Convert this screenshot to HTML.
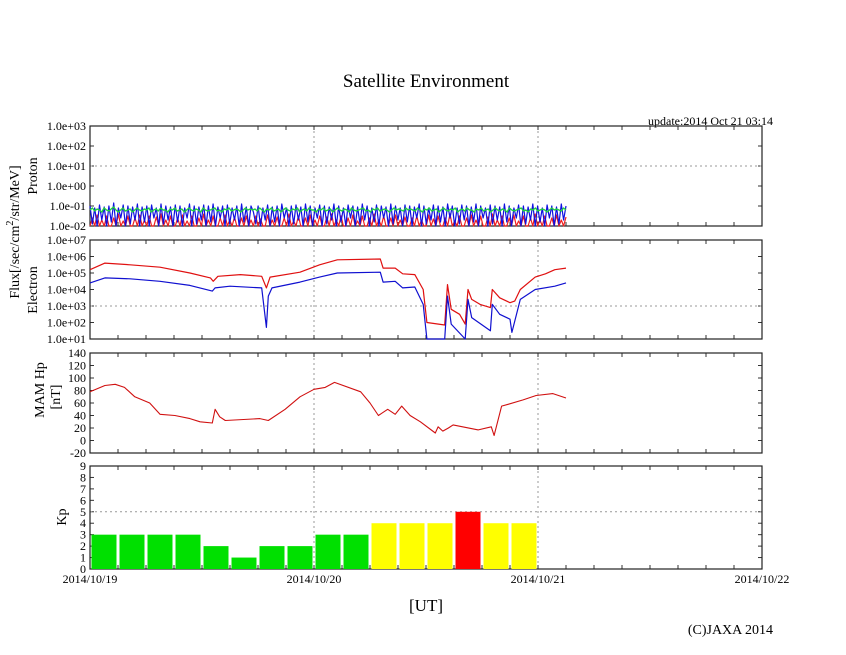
<!DOCTYPE html>
<html><head><meta charset="utf-8"><style>
body{margin:0;background:#fff;}
svg{display:block;font-family:"Liberation Serif",serif;}
</style></head><body>
<svg id="chart" width="846" height="655" viewBox="0 0 846 655" xmlns="http://www.w3.org/2000/svg">
<rect width="846" height="655" fill="#fff"/>
<text x="426" y="87" font-size="19" text-anchor="middle">Satellite Environment</text>
<text x="773" y="125" font-size="12" text-anchor="end">update:2014 Oct 21 03:14</text>
<text transform="translate(19,232) rotate(-90)" font-size="14" text-anchor="middle">Flux[/sec/cm<tspan dy="-6" font-size="10">2</tspan><tspan dy="6">/str/MeV]</tspan></text>
<text transform="translate(37,176) rotate(-90)" font-size="14" text-anchor="middle">Proton</text>
<text transform="translate(37,290) rotate(-90)" font-size="14" text-anchor="middle">Electron</text>
<text transform="translate(44,390) rotate(-90)" font-size="14" text-anchor="middle">MAM Hp</text>
<text transform="translate(60,397) rotate(-90)" font-size="14" text-anchor="middle">[nT]</text>
<text transform="translate(66,517) rotate(-90)" font-size="14" text-anchor="middle">Kp</text>
<text x="426" y="611" font-size="17" text-anchor="middle">[UT]</text>
<text x="773" y="634" font-size="14" text-anchor="end">(C)JAXA 2014</text>
<g id="plots"></g>
</svg>
<script>
// ---- data ----
const xTickLabels = ["2014/10/19","2014/10/20","2014/10/21","2014/10/22"];
const protonTickLabels = ["1.0e-02","1.0e-01","1.0e+00","1.0e+01","1.0e+02","1.0e+03"];
const electronTickLabels = ["1.0e+01","1.0e+02","1.0e+03","1.0e+04","1.0e+05","1.0e+06","1.0e+07"];
const mamTickLabels = ["-20","0","20","40","60","80","100","120","140"];
const kpTickLabels = ["0","1","2","3","4","5","6","7","8","9"];
// proton log10 values, one every 0.25 h from 0 h
const protonGreen = [-1.2,-1.1,-1.25,-1.15,-1.2,-1.3,-1.1,-1.2,-1.25,-1.15,-1.05,-1.2,-1.3,-1.2,-1.1,-1.25,-1.2,-1.15,-1.3,-1.2,-1.1,-1.2,-1.25,-1.15,-1.2,-1.1,-1.3,-1.2,-1.15,-1.25,-1.1,-1.2,-1.2,-1.3,-1.15,-1.2,-1.1,-1.25,-1.2,-1.15,-1.3,-1.2,-1.1,-1.2,-1.25,-1.15,-1.2,-1.3,-1.1,-1.2,-1.25,-1.2,-1.15,-1.1,-1.25,-1.2,-1.3,-1.15,-1.2,-1.1,-1.25,-1.2,-1.15,-1.2,-1.3,-1.2,-1.1,-1.2,-1.15,-1.2,
-1.15,-1.25,-1.1,-1.2,-1.3,-1.15,-1.2,-1.1,-1.25,-1.2,-1.15,-1.3,-1.2,-1.1,-1.2,-1.25,-1.15,-1.2,-1.1,-1.3,-1.2,-1.15,-1.25,-1.1,-1.2,-1.2,-1.3,-1.15,-1.2,-1.1,-1.25,-1.2,-1.15,-1.3,-1.2,-1.1,-1.2,-1.25,-1.15,-1.2,-1.3,-1.1,-1.2,-1.25,-1.2,-1.15,-1.1,-1.25,-1.2,-1.3,-1.15,-1.2,-1.1,-1.25,-1.2,-1.15,-1.2,-1.3,-1.2,-1.1,-1.2,-1.15,-1.2,-1.25,-1.1,-1.2,-1.15,-1.2,-1.25,
-1.1,-1.2,-1.3,-1.15,-1.2,-1.1,-1.25,-1.2,-1.15,-1.3,-1.2,-1.1,-1.2,-1.25,-1.15,-1.2,-1.1,-1.3,-1.2,-1.15,-1.25,-1.1,-1.2,-1.2,-1.3,-1.15,-1.2,-1.1,-1.25,-1.2,-1.15,-1.3,-1.2,-1.1,-1.2,-1.25,-1.15,-1.2,-1.3,-1.1,-1.2,-1.25,-1.2,-1.15,-1.1,-1.25,-1.2,-1.3,-1.15,-1.2,-1.1,-1.25,-1.2,-1.15,-1.2,-1.3,-1.2,-1.1,-1.2,-1.15,-1.2,-1.25,-1.1,-1.2];
const protonBlue = [-1.0,-1.9,-1.1,-2.0,-0.95,-1.7,-1.05,-2.0,-1.0,-1.8,-0.85,-2.0,-1.1,-1.6,-0.95,-2.0,-1.0,-1.9,-1.05,-1.7,-0.9,-2.0,-1.05,-1.8,-1.0,-2.0,-0.95,-1.6,-1.1,-2.0,-0.9,-1.9,-1.0,-1.7,-1.05,-2.0,-0.95,-1.8,-1.0,-2.0,-1.1,-1.6,-0.9,-2.0,-1.0,-1.9,-1.05,-1.7,-0.95,-2.0,-1.0,-1.8,-0.9,-2.0,-1.05,-1.6,-1.0,-2.0,-0.95,-1.9,-1.1,-1.7,-1.0,-2.0,-0.9,-1.8,-1.05,-2.0,-1.0,-1.3,
-1.9,-1.0,-2.0,-1.1,-1.7,-0.95,-2.0,-1.05,-1.8,-1.0,-2.0,-0.9,-1.6,-1.1,-2.0,-1.0,-1.9,-0.95,-1.7,-1.05,-2.0,-0.9,-1.8,-1.0,-2.0,-1.1,-1.6,-0.95,-2.0,-1.0,-1.9,-1.05,-1.7,-0.9,-2.0,-1.0,-1.8,-1.1,-2.0,-0.95,-1.6,-1.0,-2.0,-1.05,-1.9,-0.9,-1.7,-1.0,-2.0,-1.1,-1.8,-0.95,-2.0,-1.0,-1.6,-1.05,-2.0,-0.9,-1.9,-1.0,-1.7,-1.1,-2.0,-0.95,-1.8,-1.0,-2.0,
-1.05,-1.6,-0.9,-2.0,-1.0,-1.9,-1.1,-1.7,-0.95,-2.0,-1.0,-1.8,-1.05,-2.0,-0.9,-1.6,-1.0,-2.0,-1.1,-1.9,-0.95,-1.7,-1.0,-2.0,-1.05,-1.8,-0.9,-2.0,-1.0,-1.6,-1.1,-2.0,-0.95,-1.9,-1.0,-1.7,-1.05,-2.0,-0.9,-1.8,-1.0,-2.0,-1.1,-1.6,-0.95,-2.0,-1.0,-1.9,-1.05,-1.7,-0.9,-2.0,-1.0,-1.8,-1.1,-2.0,-0.95,-1.6,-1.0,-2.0,-1.05,-1.9,-0.9,-1.7,-1.0];
const protonRed = [-2.0,-1.6,-2.0,-1.45,-2.0,-1.7,-2.0,-1.5,-2.0,-2.0,-1.6,-2.0,-1.4,-2.0,-1.75,-2.0,-1.5,-2.0,-2.0,-1.6,-2.0,-1.45,-2.0,-1.7,-2.0,-1.5,-2.0,-2.0,-1.55,-2.0,-1.4,-2.0,-1.7,-2.0,-1.5,-2.0,-2.0,-1.6,-2.0,-1.45,-2.0,-1.75,-2.0,-1.5,-2.0,-2.0,-1.6,-2.0,-1.4,-2.0,-1.7,-2.0,-1.5,-2.0,-2.0,-1.6,-2.0,-1.45,-2.0,-1.7,-2.0,-1.55,-2.0,-2.0,-1.6,-2.0,-1.5,-2.0,-1.7,-2.0,
-1.5,-2.0,-1.65,-2.0,-2.0,-1.45,-2.0,-1.7,-2.0,-1.55,-2.0,-2.0,-1.6,-2.0,-1.4,-2.0,-1.75,-2.0,-1.5,-2.0,-2.0,-1.6,-2.0,-1.45,-2.0,-1.7,-2.0,-1.5,-2.0,-2.0,-1.55,-2.0,-1.4,-2.0,-1.7,-2.0,-1.5,-2.0,-2.0,-1.6,-2.0,-1.45,-2.0,-1.75,-2.0,-1.5,-2.0,-2.0,-1.6,-2.0,-1.4,-2.0,-1.7,-2.0,-1.5,-2.0,-2.0,-1.6,-2.0,-1.45,-2.0,-1.7,-2.0,-1.55,-2.0,-2.0,-1.6,
-2.0,-1.5,-2.0,-1.7,-2.0,-2.0,-1.45,-2.0,-1.65,-2.0,-1.5,-2.0,-2.0,-1.6,-2.0,-1.4,-2.0,-1.75,-2.0,-1.5,-2.0,-2.0,-1.6,-2.0,-1.45,-2.0,-1.7,-2.0,-1.5,-2.0,-2.0,-1.55,-2.0,-1.4,-2.0,-1.7,-2.0,-1.5,-2.0,-2.0,-1.6,-2.0,-1.45,-2.0,-1.75,-2.0,-1.5,-2.0,-2.0,-1.6,-2.0,-1.4,-2.0,-1.7,-2.0,-1.5,-2.0,-2.0,-1.6,-2.0,-1.45,-2.0,-1.7,-2.0,-1.55];
// electron: hours and log10 flux
const electronRedHours = [0,1.6,4.3,7.5,10.7,12.9,13.2,13.7,16.1,18.4,18.9,19.3,22.5,24.6,26.5,31.1,31.4,32.7,33.5,34.8,35.7,36.1,38.0,38.3,38.7,39.6,40.2,40.5,40.9,41.8,42.9,43.1,43.9,45.0,45.5,46.1,47.7,48.8,49.8,51.0];
const electronRed = [5.2,5.6,5.5,5.35,5.0,4.7,4.5,4.8,4.9,4.8,4.1,4.75,5.05,5.5,5.8,5.85,5.3,5.3,4.95,4.9,4.0,2.0,1.85,4.3,2.8,2.5,1.9,4.0,3.4,3.1,2.9,4.0,3.5,3.2,3.3,4.0,4.75,4.95,5.2,5.3];
const electronBlueHours = [0,1.6,4.3,7.5,10.7,13.1,13.4,15.0,18.4,18.9,19.1,19.5,22.5,24.6,26.5,31.1,31.4,32.7,33.5,34.8,35.7,36.1,38.0,38.3,38.7,40.2,40.5,40.9,42.9,43.1,43.9,45.0,45.2,46.1,47.7,49.8,51.0];
const electronBlue = [4.4,4.7,4.65,4.5,4.25,3.9,4.1,4.2,4.1,1.7,3.6,4.1,4.45,4.75,5.0,5.05,4.45,4.5,4.1,4.15,3.1,1.0,1.0,3.6,1.9,1.0,3.4,2.3,1.5,3.1,2.5,2.2,1.4,3.4,4.0,4.2,4.4];
// MAM Hp
const mamHours = [0,1.6,2.7,3.7,4.8,6.4,7.5,9.1,10.7,11.8,13.1,13.4,13.9,14.5,18.2,19.1,20.9,22.5,24.0,25.2,26.2,29.0,30.0,30.9,31.9,32.7,33.4,34.3,35.4,37.0,37.3,37.8,38.4,38.9,41.6,43.0,43.3,44.1,44.8,46.4,47.8,49.6,51.0];
const mamValues = [78,88,90,85,70,60,42,40,35,30,28,50,38,32,35,32,50,70,82,85,93,78,60,40,50,42,55,40,30,12,22,15,20,25,17,22,8,55,58,65,72,75,68];
// Kp, one per 3 h interval
const kpValues = [3,3,3,3,2,1,2,2,3,3,4,4,4,5,4,4];

// ---- layout ----
const X0=90, X1=762, DAYS=3;
const panels = {
  proton:{top:126,bottom:226,min:-2,max:3},
  electron:{top:240,bottom:339,min:1,max:7},
  mam:{top:353,bottom:453,min:-20,max:140},
  kp:{top:466,bottom:569,min:0,max:9}
};
const xScale = h => X0 + h/(24*DAYS)*(X1-X0);
const yScale = (p,v) => p.bottom - (Math.max(p.min,Math.min(p.max,v))-p.min)/(p.max-p.min)*(p.bottom-p.top);
const NS="http://www.w3.org/2000/svg";
const g=document.getElementById('plots');
function mk(tag,attrs,parent){const e=document.createElementNS(NS,tag);for(const k in attrs)e.setAttribute(k,attrs[k]);(parent||g).appendChild(e);return e;}

function frame(name,p,labels,gridIdx){
  const grp=mk('g',{});
  
  
  for(let d=1;d<DAYS;d++){
    const gl=mk('line',{x1:xScale(d*24),x2:xScale(d*24),y1:p.top,y2:p.bottom,stroke:'#999','stroke-dasharray':'2,3','stroke-width':1},grp);
    
    
  }
  const step=(p.max-p.min)/(labels.length-1);
  labels.forEach((lab,i)=>{
    const y=yScale(p,p.min+i*step);
    const t=mk('text',{x:X0-4,y:y+4,'font-size':12,'text-anchor':'end'},grp);
    t.textContent=lab;
    
    
    mk('line',{x1:X0,x2:X0+4,y1:y,y2:y,stroke:'#333'},grp);
    mk('line',{x1:X1-4,x2:X1,y1:y,y2:y,stroke:'#333'},grp);
    if(gridIdx.includes(i)){
      const hl=mk('line',{x1:X0,x2:X1,y1:y,y2:y,stroke:'#999','stroke-dasharray':'2,3'},grp);
      
      
    }
  });
  for(let h=3;h<24*DAYS;h+=3){
    const x=xScale(h);
    mk('line',{x1:x,x2:x,y1:p.top,y2:p.top+4,stroke:'#333'},grp);
    mk('line',{x1:x,x2:x,y1:p.bottom-4,y2:p.bottom,stroke:'#333'},grp);
  }
  const r=mk('rect',{x:X0,y:p.top,width:X1-X0,height:p.bottom-p.top,fill:'none',stroke:'#222','stroke-width':1.2},grp);
  
  
  return grp;
}
function line(p,hours,vals,color,name,w){
  const pts=hours.map((h,i)=>xScale(h).toFixed(1)+','+yScale(p,vals[i]).toFixed(1)).join(' ');
  const pl=mk('polyline',{points:pts,fill:'none',stroke:color,'stroke-width':w||1,'stroke-linejoin':'round'});
  
  
}

frame('proton',panels.proton,protonTickLabels,[3]);
frame('electron',panels.electron,electronTickLabels,[2]);
frame('mam',panels.mam,mamTickLabels,[]);
frame('kp',panels.kp,kpTickLabels,[5]);

const pStep = 51/(protonGreen.length-1);
const pHours = protonGreen.map((_,i)=>i*pStep);
line(panels.proton,protonRed.map((_,i)=>i*51/(protonRed.length-1)),protonRed,'#f02020','proton-red-series',1.2);
line(panels.proton,protonBlue.map((_,i)=>i*51/(protonBlue.length-1)),protonBlue,'#1010e0','proton-blue-series',1.2);
line(panels.proton,pHours,protonGreen,'#20d040','proton-green-series',1.4);
line(panels.electron,electronRedHours,electronRed,'#e01010','electron-red-series',1.2);
line(panels.electron,electronBlueHours,electronBlue,'#1010d0','electron-blue-series',1.2);
line(panels.mam,mamHours,mamValues,'#d01010','mam-hp-series',1.1);

kpValues.forEach((v,i)=>{
  const p=panels.kp;
  const x=xScale(i*3)+1.5, w=xScale(3)-X0-3;
  const y=yScale(p,v);
  const b=mk('rect',{x:x,y:y,width:w,height:p.bottom-y,fill:v>=5?'#ff0000':(v>=4?'#ffff00':'#00e000')});
  
  
});

xTickLabels.forEach((lab,i)=>{
  const t=mk('text',{x:xScale(i*24),y:583,'font-size':12,'text-anchor':'middle'});
  t.textContent=lab;
  
  
});
</script>
</body></html>
